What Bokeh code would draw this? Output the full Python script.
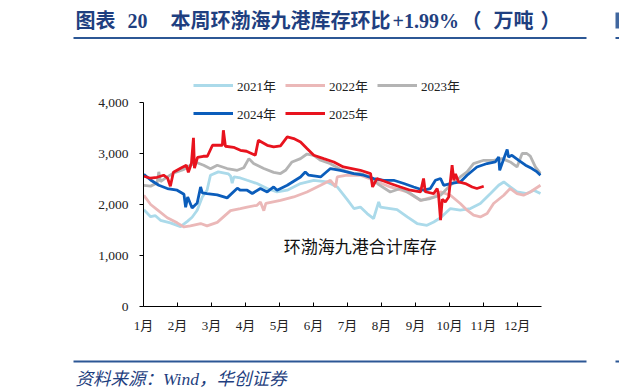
from bokeh.plotting import figure
from bokeh.models import Range1d, FixedTicker, Label, BoxAnnotation, Legend, LegendItem
from bokeh.embed import file_html
from bokeh.resources import INLINE

# ---------------- data (x = month position, 1 = Jan 1; y = 万吨) ----------------
month_ticks = [1, 2, 3, 4, 5, 6, 7, 8, 9, 10, 11, 12]
month_labels = ["1月", "2月", "3月", "4月", "5月", "6月", "7月", "8月", "9月", "10月", "11月", "12月"]
y_ticks = [0, 1000, 2000, 3000, 4000]
y_labels = ["0", "1,000", "2,000", "3,000", "4,000"]

x2021 = [1.01, 1.21, 1.35, 1.50, 1.79, 2.09, 2.29, 2.43, 2.58, 2.73, 2.87, 2.97, 3.20, 3.50, 3.56, 3.61, 3.66, 3.85,
         4.05, 4.34, 4.64, 4.93, 5.23, 5.62, 6.01, 6.40, 6.70, 6.99, 7.19, 7.38, 7.58, 7.77, 7.92, 7.97, 8.26, 8.46,
         8.76, 9.05, 9.34, 9.54, 9.74, 10.03, 10.32, 10.62, 10.91, 11.21, 11.45, 11.60, 11.79, 11.99, 12.28, 12.48, 12.68]
y2021 = [1900, 1760, 1780, 1690, 1640, 1565, 1670, 1750, 1888, 2148, 2280, 2574, 2640, 2600, 2560, 2420, 2540, 2520,
         2475, 2411, 2313, 2246, 2280, 2411, 2475, 2442, 2344, 2100, 1921, 1950, 1823, 1725, 2050, 1950, 1921, 1900,
         1756, 1627, 1593, 1658, 1740, 1921, 1888, 1921, 2019, 2215, 2377, 2442, 2344, 2246, 2215, 2280, 2215]

x2022 = [1.01, 1.21, 1.40, 1.70, 1.99, 2.19, 2.38, 2.68, 2.87, 3.17, 3.56, 3.85, 4.05, 4.34, 4.44, 4.54, 4.60, 5.03,
         5.42, 5.81, 6.21, 6.50, 6.65, 6.70, 6.99, 7.38, 7.77, 8.26, 8.76, 9.15, 9.54, 9.74, 10.03, 10.32, 10.52,
         10.71, 10.91, 11.11, 11.30, 11.60, 11.79, 11.99, 12.18, 12.38, 12.68]
y2022 = [2182, 2000, 1900, 1740, 1640, 1560, 1580, 1627, 1580, 1650, 1880, 1921, 1950, 1985, 2050, 1880, 2020, 2083,
         2148, 2246, 2377, 2475, 2344, 2540, 2574, 2574, 2475, 2344, 2246, 2083, 2148, 2246, 2182, 2019, 1888,
         1790, 1756, 1823, 2019, 2182, 2313, 2215, 2182, 2246, 2377]

x2023 = [1.01, 1.21, 1.40, 1.45, 1.50, 1.70, 1.89, 2.19, 2.38, 2.58, 2.77, 2.97, 3.17, 3.46, 3.76, 3.95, 4.10, 4.24,
         4.54, 4.83, 5.03, 5.18, 5.37, 5.62, 5.81, 6.01, 6.21, 6.50, 6.79, 7.19, 7.38, 7.68, 7.90, 8.26, 8.56, 8.85,
         9.15, 9.44, 9.74, 10.03, 10.32, 10.52, 10.71, 11.01, 11.30, 11.55, 11.79, 11.99, 12.14, 12.28, 12.38,
         12.53, 12.68]
y2023 = [2377, 2360, 2420, 2640, 2450, 2540, 2620, 2690, 2770, 2820, 2770, 2700, 2770, 2705, 2671, 2720, 2900, 2803,
         2705, 2630, 2607, 2671, 2834, 2900, 2990, 2965, 2867, 2800, 2690, 2600, 2607, 2540, 2400, 2246, 2313, 2215,
         2083, 2117, 2182, 2377, 2540, 2638, 2803, 2867, 2867, 2900, 2834, 2736, 3000, 3000, 2950,
         2736, 2607]

x2024 = [1.01, 1.21, 1.45, 1.70, 1.99, 2.19, 2.24, 2.30, 2.43, 2.58, 2.68, 2.73, 2.87, 3.17, 3.46, 3.76, 3.85, 4.05,
         4.20, 4.44, 4.64, 4.83, 4.93, 5.23, 5.62, 5.76, 5.86, 6.21, 6.50, 6.79, 7.19, 7.48, 7.77, 8.07, 8.36, 8.66,
         8.95, 9.24, 9.44, 9.59, 9.74, 9.83, 10.03, 10.32, 10.52, 10.81, 11.11, 11.35, 11.45, 11.48, 11.55, 11.70,
         11.74, 11.84, 12.04, 12.24, 12.43, 12.58, 12.68]
y2024 = [2590, 2480, 2377, 2313, 2280, 2200, 1945, 2148, 1930, 2030, 2344, 2230, 2215, 2190, 2130, 2320, 2280, 2280,
         2215, 2313, 2246, 2344, 2280, 2377, 2540, 2638, 2574, 2540, 2705, 2671, 2607, 2574, 2509, 2475, 2475, 2411,
         2344, 2280, 2313, 2475, 2509, 2377, 2411, 2442, 2574, 2736, 2803, 2834, 2932, 2671, 2803, 3077,
         2932, 2965, 2867, 2770, 2705, 2638, 2574]

x2025 = [1.01, 1.21, 1.40, 1.59, 1.71, 1.79, 1.88, 2.09, 2.26, 2.32, 2.41, 2.47, 2.50, 2.59, 2.76, 2.88, 3.03, 3.32,
         3.35, 3.41, 3.65, 3.85, 4.03, 4.29, 4.38, 4.64, 4.83, 5.03, 5.23, 5.42, 5.62, 5.81, 6.01, 6.30, 6.60, 6.88,
         7.38, 7.68, 7.74, 7.87, 8.26, 8.56, 8.85, 9.15, 9.24, 9.29, 9.54, 9.64, 9.68, 9.74, 9.79, 9.88, 9.98, 10.08,
         10.13, 10.18, 10.27, 10.47, 10.67, 10.81, 11.01]
y2025 = [2554, 2515, 2534, 2574, 2515, 2358, 2632, 2711, 2770, 2632, 2809, 3308, 2711, 2926, 2946, 2946, 3162, 3162,
         3456, 3142, 3122, 3063, 3044, 2965, 3260, 3161, 3128, 3150, 3324, 3293, 3226, 3097, 2965, 2900, 2834, 2736,
         2671, 2607, 2344, 2509, 2411, 2344, 2280, 2246, 2509, 2250, 2215, 2313, 2200, 1691, 2100, 2050, 2148, 2770,
         2475, 2600, 2442, 2411, 2344, 2313, 2358]

series = [
    ("2021年", x2021, y2021, "#ABDAEA"),
    ("2022年", x2022, y2022, "#EBB8B8"),
    ("2023年", x2023, y2023, "#B4B4B4"),
    ("2024年", x2024, y2024, "#0B5DBB"),
    ("2025年", x2025, y2025, "#E8131E"),
]

SERIF = "Liberation Serif, Noto Sans CJK SC"
NAVY = "#1F3F80"
RULE = "#2C5795"
W = 619


def panel(h):
    f = figure(width=W, height=h, output_backend="svg", toolbar_location=None,
               x_range=Range1d(0, W), y_range=Range1d(0, h), x_axis_type=None, y_axis_type=None,
               min_border=0, min_border_left=0, min_border_right=0, min_border_top=0, min_border_bottom=0)
    f.outline_line_color = None
    f.grid.visible = False
    return f


def title_text(f, x, y, s):
    f.add_layout(Label(x=x, y=y, text=s, text_baseline="middle", text_font=SERIF, text_font_style="bold",
                       text_font_size="20px", text_color=NAVY))


# ---------------- header ----------------
HH = 60
head = panel(HH)
title_text(head, 75, HH - 20, "图表")
title_text(head, 127, HH - 20, "20")
title_text(head, 170, HH - 20, "本周环渤海九港库存环比")
title_text(head, 392, HH - 20, "+1.99%")
title_text(head, 461, HH - 20, "（")
title_text(head, 493, HH - 20, "万吨")
title_text(head, 540, HH - 20, "）")
head.add_layout(BoxAnnotation(left=73, right=586, top=HH - 36.5, bottom=HH - 38.5,
                              fill_color=RULE, fill_alpha=1, line_color=None))
head.add_layout(BoxAnnotation(left=615, right=619, top=HH - 36.5, bottom=HH - 38.5,
                              fill_color=RULE, fill_alpha=1, line_color=None))
head.add_layout(BoxAnnotation(left=615, right=619, top=HH - 12, bottom=HH - 28,
                              fill_color=RULE, fill_alpha=0.9, line_color=None))

# ---------------- main chart ----------------
MH = 290          # main figure height (page y 60..350)
FRAME_H = 246     # frame from page y 60 to the x axis at ~306
p = figure(width=W, height=MH, output_backend="svg", toolbar_location=None,
           x_range=Range1d(1, 12.71), y_range=Range1d(0, 4000 * FRAME_H / 204.0),
           min_border_left=143, min_border_right=78, min_border_top=0, min_border_bottom=MH - FRAME_H)
p.outline_line_color = None
p.xgrid.visible = False
p.ygrid.visible = False

renderers = {}
for name, xs, ys, col in series:
    renderers[name] = p.line(xs, ys, line_color=col, line_width=2.8)

legend_order = ["2021年", "2024年", "2022年", "2025年", "2023年"]   # column-major fill of a 3x2 grid
legend = Legend(items=[LegendItem(label=n, renderers=[renderers[n]]) for n in legend_order],
                ncols=3, location=(50, 183), padding=0, margin=0, spacing=8,
                glyph_width=40, glyph_height=20, label_height=20, label_width=40, label_standoff=4,
                border_line_color=None, background_fill_alpha=0,
                label_text_font=SERIF, label_text_font_size="13px", label_text_color="#222222")
p.add_layout(legend, "center")

xa = p.xaxis[0]
xa.ticker = FixedTicker(ticks=month_ticks)
xa.major_label_overrides = {m: l for m, l in zip(month_ticks, month_labels)}
xa.major_tick_in = 4
xa.major_tick_out = 0
xa.minor_tick_line_color = None
xa.axis_line_color = "black"
xa.major_tick_line_color = "black"
xa.major_label_text_font = SERIF
xa.major_label_text_font_size = "13px"
xa.major_label_text_color = "#222222"
xa.major_label_standoff = 11

ya = p.yaxis[0]
ya.ticker = FixedTicker(ticks=y_ticks)
ya.bounds = (0, 4000)
ya.major_label_overrides = {t: l for t, l in zip(y_ticks, y_labels)}
ya.major_tick_in = 0
ya.major_tick_out = 4
ya.minor_tick_line_color = None
ya.axis_line_color = "black"
ya.major_tick_line_color = "black"
ya.major_label_text_font = SERIF
ya.major_label_text_font_size = "13.5px"
ya.major_label_text_color = "#222222"
ya.major_label_standoff = 11

p.add_layout(Label(x=7.38, y=1200, text="环渤海九港合计库存", text_align="center", text_baseline="middle",
                   text_font="Noto Sans CJK SC", text_font_size="17px", text_color="#111111"))

# ---------------- footer ----------------
FH = 38
foot = panel(FH)
foot.add_layout(BoxAnnotation(left=73, right=586, top=FH - 10, bottom=FH - 12,
                              fill_color=RULE, fill_alpha=1, line_color=None))
foot.add_layout(BoxAnnotation(left=615, right=619, top=FH - 10, bottom=FH - 12,
                              fill_color=RULE, fill_alpha=1, line_color=None))
foot.add_layout(Label(x=75, y=FH - 28, text="资料来源：Wind，华创证券", text_baseline="middle",
                      text_font=SERIF, text_font_style="italic", text_font_size="17.5px", text_color=NAVY))

html = file_html([head, p, foot], INLINE)
html = html.replace("<head>", "<head><style>body{margin:0;} .bk-root, div[data-root-id]{display:block;line-height:0;}</style>", 1)
open("out.html", "w").write(html)
